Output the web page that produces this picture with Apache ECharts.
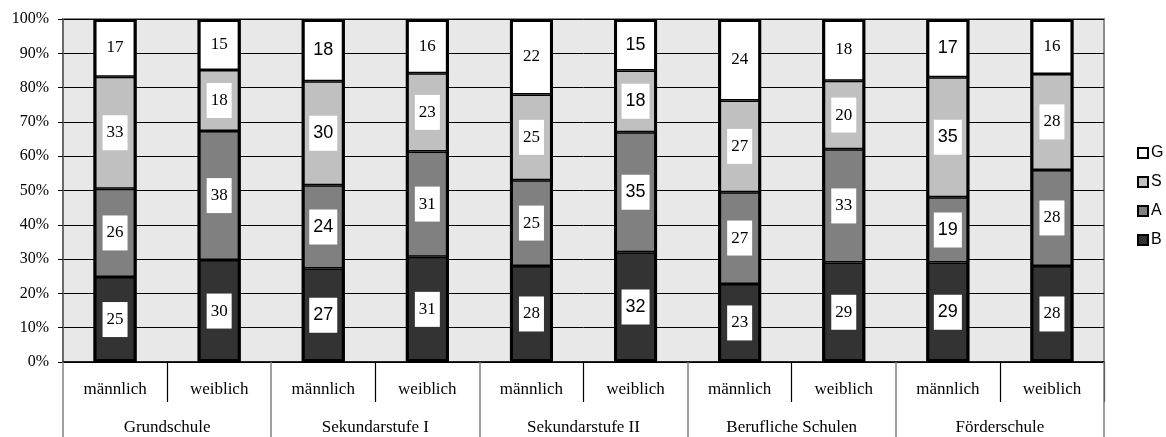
<!DOCTYPE html>
<html>
<head>
<meta charset="utf-8">
<script src="https://cdn.jsdelivr.net/npm/echarts@6/dist/echarts.min.js"></script>
<style>
  html, body { margin: 0; padding: 0; background: #fff; }
  #chart { width: 1166px; height: 437px; }
</style>
</head>
<body>
<div id="chart"></div>
<script>
// Bars: school type × gender, shares of B / A / S / G (values in %)
const genders = ['männlich', 'weiblich', 'männlich', 'weiblich', 'männlich', 'weiblich',
                 'männlich', 'weiblich', 'männlich', 'weiblich'];
const schools = ['Grundschule', 'Sekundarstufe I', 'Sekundarstufe II', 'Berufliche Schulen', 'Förderschule'];
const seriesNames = ['B', 'A', 'S', 'G'];
const valuesB = [25, 30, 27, 31, 28, 32, 23, 29, 29, 28];
const valuesA = [26, 38, 24, 31, 25, 35, 27, 33, 19, 28];
const valuesS = [33, 18, 30, 23, 25, 18, 27, 20, 35, 28];
const valuesG = [17, 15, 18, 16, 22, 15, 24, 18, 17, 16];
const yTicks = [0, 10, 20, 30, 40, 50, 60, 70, 80, 90, 100];

const SERIF = '"Liberation Serif", "Times New Roman", serif';
const SANS = '"Liberation Sans", Arial, sans-serif';
const fillColors = { B: '#333333', A: '#808080', S: '#c0c0c0', G: '#ffffff' };
// bars whose value labels are set in a sans-serif face
const sansLabelBars = [2, 5, 8];
const BAR_WIDTH = 43;

const raw = { B: valuesB, A: valuesA, S: valuesS, G: valuesG };
const totals = valuesB.map((_, i) => valuesB[i] + valuesA[i] + valuesS[i] + valuesG[i]);
const shares = {};
seriesNames.forEach(n => { shares[n] = raw[n].map((v, i) => v / totals[i] * 100); });
// height of each full stacked column (100 % after normalising)
const columnTotals = totals.map((_, i) => seriesNames.reduce((s, n) => s + shares[n][i], 0));

const series = seriesNames.map(name => ({
  name: name,
  type: 'bar',
  stack: 'share',
  xAxisIndex: 0,
  barWidth: BAR_WIDTH,
  barGap: '-100%',
  itemStyle: { color: fillColors[name], borderColor: '#000', borderWidth: 1.5 },
  label: {
    show: true,
    position: 'inside',
    color: '#000',
    backgroundColor: '#fff',
    borderWidth: 0,
    textBorderWidth: 0,
    padding: [9, 4, 8, 4],
    lineHeight: 18,
    fontSize: 17,
    fontFamily: SERIF,
    formatter: p => String(raw[name][p.dataIndex])
  },
  data: shares[name].map((v, i) => {
    const item = { value: v };
    if (sansLabelBars.includes(i)) item.label = { fontFamily: SANS, fontSize: 18 };
    return item;
  })
}));

// heavy outline around each whole column
series.push({
  name: 'outline',
  type: 'bar',
  xAxisIndex: 0,
  barWidth: BAR_WIDTH,
  barGap: '-100%',
  silent: true,
  z: 3,
  itemStyle: { color: 'rgba(0,0,0,0)', borderColor: '#000', borderWidth: 3 },
  label: { show: false },
  data: columnTotals
});

const chart = echarts.init(document.getElementById('chart'), null, { renderer: 'canvas' });
chart.setOption({
  animation: false,
  backgroundColor: '#ffffff',
  grid: {
    left: 63, right: 62, top: 19, bottom: 75,
    show: true,
    backgroundColor: '#e8e8e8',
    borderColor: '#8c8c8c',
    borderWidth: 2
  },
  legend: {
    orient: 'vertical',
    left: 1132,
    top: 140,
    data: ['G', 'S', 'A', 'B'],
    icon: 'rect',
    itemWidth: 10,
    itemHeight: 10,
    itemGap: 13,
    itemStyle: { borderColor: '#000', borderWidth: 2 },
    textStyle: { fontFamily: SANS, fontSize: 16, color: '#000', padding: [0, 0, 0, -2] }
  },
  xAxis: [
    {
      type: 'category',
      data: genders,
      position: 'bottom',
      axisLine: { lineStyle: { color: '#000', width: 1.5 } },
      axisTick: {
        show: true,
        length: 40,
        interval: (i) => i % 2 === 1,
        lineStyle: { color: '#000', width: 1.2 }
      },
      axisLabel: { margin: 19, fontFamily: SERIF, fontSize: 17, color: '#000', interval: 0 }
    },
    {
      type: 'category',
      data: schools,
      position: 'bottom',
      axisLine: { show: false },
      axisTick: { show: true, length: 75, lineStyle: { color: '#808080', width: 1.5 } },
      axisLabel: { margin: 57, fontFamily: SERIF, fontSize: 17, color: '#000', interval: 0 }
    }
  ],
  yAxis: {
    type: 'value',
    min: yTicks[0],
    max: yTicks[yTicks.length - 1],
    interval: yTicks[1] - yTicks[0],
    axisLine: { show: true, lineStyle: { color: '#6a6a6a', width: 2 } },
    axisTick: { show: true, length: 5, lineStyle: { color: '#000' } },
    axisLabel: { margin: 14, formatter: '{value}%', fontFamily: SERIF, fontSize: 16, color: '#000' },
    splitLine: { show: true, lineStyle: { color: '#000', width: 1 } }
  },
  series: series
});
</script>
</body>
</html>
